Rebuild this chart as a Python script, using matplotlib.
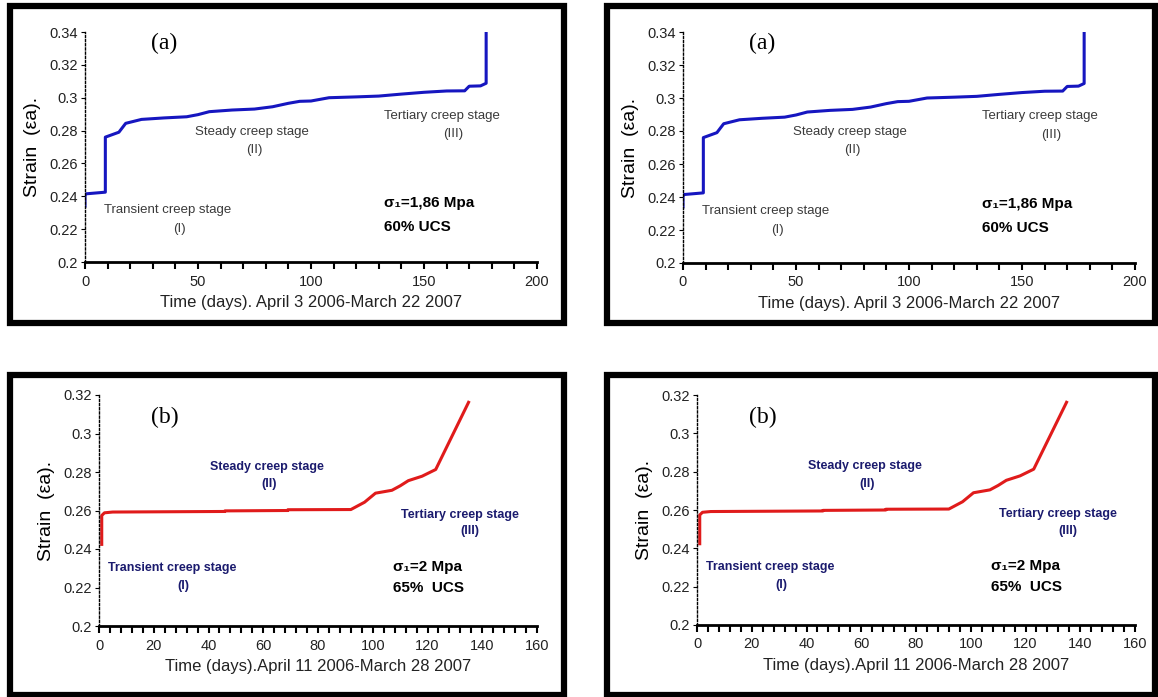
import matplotlib
matplotlib.use("Agg")
import matplotlib.pyplot as plt
from matplotlib.patches import Rectangle
from matplotlib.ticker import MultipleLocator
from matplotlib import font_manager

plt.rcParams['font.family'] = ['Liberation Sans', 'DejaVu Sans']

# ===== Data =====
# (a) sigma1 = 1.86 MPa
days_a = [0, 0, 0.5, 9, 9, 12, 15, 18, 25, 35, 45, 50, 55, 65, 75, 83, 90, 95,
          100, 108, 120, 130, 140, 150, 160, 168, 170, 175, 177.5, 177.5]
strain_a = [0.234, 0.2405, 0.2415, 0.2425, 0.276, 0.2775, 0.279, 0.2844, 0.2868,
            0.2877, 0.2884, 0.2897, 0.2915, 0.2925, 0.2931, 0.2945, 0.2966, 0.2978,
            0.298, 0.300, 0.3005, 0.301, 0.3022, 0.3033, 0.3041, 0.3042, 0.307,
            0.3072, 0.3088, 0.340]
yticks_a = [0.2, 0.22, 0.24, 0.26, 0.28, 0.3, 0.32, 0.34]
ylabels_a = ["0.2", "0.22", "0.24", "0.26", "0.28", "0.3", "0.32", "0.34"]
xlabel_a = "Time (days). April 3 2006-March 22 2007"

# (b) sigma1 = 2 MPa
days_b = [1, 1, 2, 5, 46, 46, 69, 69, 92, 97, 101, 103, 107, 110, 113, 118, 123, 135]
strain_b = [0.2424, 0.2574, 0.2588, 0.2592, 0.2595, 0.2598, 0.2600, 0.2604, 0.2605,
            0.2643, 0.269, 0.2695, 0.2705, 0.2728, 0.2755, 0.2778, 0.2813, 0.3162]
yticks_b = [0.2, 0.22, 0.24, 0.26, 0.28, 0.3, 0.32]
ylabels_b = ["0.2", "0.22", "0.24", "0.26", "0.28", "0.3", "0.32"]
xlabel_b = "Time (days).April 11 2006-March 28 2007"

W, H = 1158, 697
fig = plt.figure(figsize=(W / 100, H / 100), dpi=100)
fig.patch.set_facecolor("white")

# narrow bold face for the (b) stage labels if there is one
installed = {f.name for f in font_manager.fontManager.ttflist}
if "Liberation Sans Narrow" in installed:
    narrow_fam, narrow_size = ["Liberation Sans Narrow", "DejaVu Sans"], 10.5
else:
    narrow_fam, narrow_size = ["Liberation Sans", "DejaVu Sans"], 9


def frac(x0, y0, x1, y1):
    # pixel box (top-left origin) -> figure fraction [l, b, w, h]
    return [x0 / W, 1 - y1 / H, (x1 - x0) / W, (y1 - y0) / H]


def draw_frame(x0, y0, x1, y1):
    l, b, w, h = frac(x0, y0, x1, y1)
    fig.patches.append(Rectangle((l, b), w, h, transform=fig.transFigure,
                                 fill=False, edgecolor="black", linewidth=4.5,
                                 zorder=5))


def style_axes(ax, xmax, xmajor, xminor, yticks, ylabels, ymax, xlabel):
    ax.set_xlim(0, xmax)
    ax.set_ylim(0.2, ymax)
    for s in ["top", "right"]:
        ax.spines[s].set_visible(False)
    ax.spines["left"].set_linestyle((0, (1.5, 1.5)))
    ax.spines["left"].set_linewidth(1.0)
    ax.spines["bottom"].set_linewidth(2.0)
    ax.xaxis.set_major_locator(MultipleLocator(xmajor))
    ax.xaxis.set_minor_locator(MultipleLocator(xminor))
    ax.tick_params(axis="x", which="both", direction="out", length=5, width=1.5,
                   labelsize=10.5, pad=4, colors="black")
    ax.tick_params(axis="x", labelcolor="#222222")
    ax.set_yticks(yticks)
    ax.set_yticklabels(ylabels)
    ax.tick_params(axis="y", direction="out", length=3, width=0.8,
                   labelsize=10.5, pad=2, labelcolor="#222222")
    ax.set_ylabel("Strain  (εa).", fontsize=14, labelpad=6)
    ax.set_xlabel(xlabel, fontsize=12, labelpad=5, color="#222222")


def panel_a(frame_box, axes_box):
    draw_frame(*frame_box)
    ax = fig.add_axes(frac(*axes_box))
    ax.plot(days_a, strain_a, color="#1616c0", linewidth=2.2)
    style_axes(ax, 200, 50, 10, yticks_a, ylabels_a, 0.34, xlabel_a)
    grey = "#3a3a3a"
    ax.text(35, 0.333, "(a)", fontsize=17, family="Liberation Serif",
            ha="center", va="center")
    ax.text(36.5, 0.2314, "Transient creep stage", fontsize=9.5, color=grey,
            ha="center", va="center")
    ax.text(42, 0.2202, "(I)", fontsize=9.5, color=grey, ha="center", va="center")
    ax.text(74, 0.2793, "Steady creep stage", fontsize=9.5, color=grey,
            ha="center", va="center")
    ax.text(75, 0.2683, "(II)", fontsize=9.5, color=grey, ha="center", va="center")
    ax.text(158, 0.289, "Tertiary creep stage", fontsize=9.5, color=grey,
            ha="center", va="center")
    ax.text(163, 0.2778, "(III)", fontsize=9.5, color=grey, ha="center", va="center")
    ax.text(132.5, 0.2357, "σ₁=1,86 Mpa", fontsize=11, fontweight="bold",
            ha="left", va="center")
    ax.text(132.5, 0.2212, "60% UCS", fontsize=11, fontweight="bold",
            ha="left", va="center")


def panel_b(frame_box, axes_box):
    draw_frame(*frame_box)
    ax = fig.add_axes(frac(*axes_box))
    ax.plot(days_b, strain_b, color="#e01b1b", linewidth=2.2)
    style_axes(ax, 160, 20, 4, yticks_b, ylabels_b, 0.32, xlabel_b)
    navy = "#1b1b6e"
    kw = dict(fontsize=narrow_size, color=navy, fontweight="bold",
              family=narrow_fam, ha="center", va="center")
    ax.text(24.2, 0.3084, "(b)", fontsize=17, family="Liberation Serif",
            ha="center", va="center")
    ax.text(61.2, 0.2828, "Steady creep stage", **kw)
    ax.text(62.3, 0.2738, "(II)", **kw)
    ax.text(131.8, 0.2579, "Tertiary creep stage", **kw)
    ax.text(135.5, 0.2491, "(III)", **kw)
    ax.text(26.9, 0.2303, "Transient creep stage", **kw)
    ax.text(30.9, 0.2209, "(I)", **kw)
    ax.text(107.3, 0.2309, "σ₁=2 Mpa", fontsize=11, fontweight="bold",
            ha="left", va="center")
    ax.text(107.3, 0.2197, "65%  UCS", fontsize=11, fontweight="bold",
            ha="left", va="center")


# ===== Four panels (left and right are the same chart) =====
panel_a((10, 6, 564, 323), (85, 32, 537, 262))
panel_a((607, 6, 1155, 323), (683, 32, 1135, 263))
panel_b((10, 375, 564, 695), (99, 395, 537, 626))
panel_b((607, 375, 1155, 695), (697, 395, 1135, 625))

fig.savefig("out.png", dpi=100, facecolor="white")
